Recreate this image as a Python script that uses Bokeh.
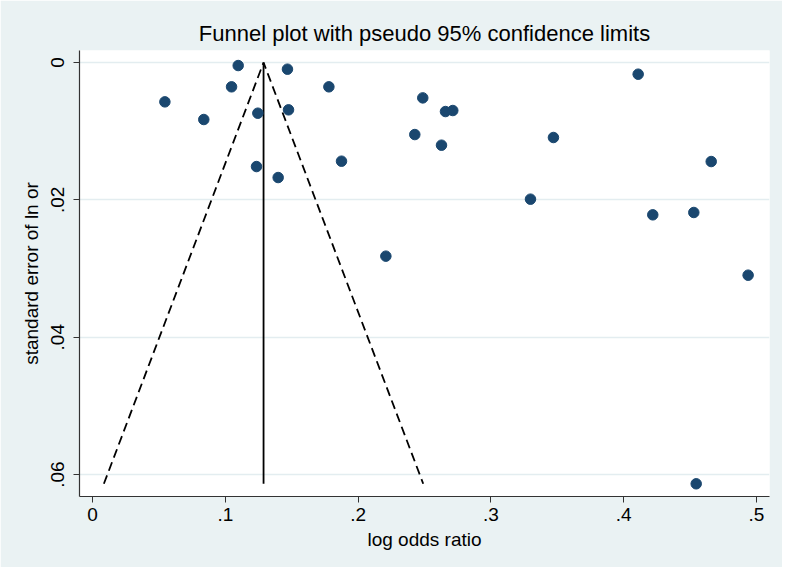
from bokeh.plotting import figure
from bokeh.models import Range1d, FixedTicker, CustomJSTickFormatter
from bokeh.embed import file_html
from bokeh.resources import INLINE

# Study estimates: log odds ratio and its standard error
log_or = [0.1097, 0.1468, 0.1047, 0.1780, 0.0545, 0.0838, 0.1245, 0.1476,
          0.1235, 0.1398, 0.1875, 0.2487, 0.2658, 0.2713, 0.2427, 0.2628,
          0.3471, 0.3298, 0.2209, 0.4109, 0.4659, 0.4219, 0.4528, 0.4937,
          0.4546]
se_lnor = [0.00044, 0.00097, 0.00354, 0.00354, 0.00573, 0.00830, 0.00738, 0.00689,
           0.01515, 0.01675, 0.01437, 0.00515, 0.00714, 0.00699, 0.01049, 0.01204,
           0.01092, 0.01990, 0.02820, 0.00170, 0.01442, 0.02218, 0.02184, 0.03097,
           0.06135]

pooled = 0.1288          # fixed-effect pooled log odds ratio
se_max = max(se_lnor)

x_ticks = [0, 0.1, 0.2, 0.3, 0.4, 0.5]
y_ticks = [0, 0.02, 0.04, 0.06]

BG = "#EAF2F3"
NAVY = "#1A476F"
FONT = "Liberation Sans"

p = figure(width=782, height=567,
           x_range=Range1d(-0.0098, 0.5098),
           y_range=Range1d(0.0632, -0.00175),
           output_backend="svg", toolbar_location=None,
           min_border_left=79, min_border_right=13,
           min_border_top=50, min_border_bottom=71)

p.background_fill_color = "white"
p.border_fill_color = BG
p.outline_line_color = None

p.title.text = "Funnel plot with pseudo 95% confidence limits"
p.title.align = "center"
p.title.text_font = FONT
p.title.text_font_size = "22px"
p.title.text_font_style = "normal"
p.title.text_color = "black"

# Confidence limit lines and pooled estimate
lo = pooled - 1.96 * se_max
hi = pooled + 1.96 * se_max
p.line([lo, pooled, hi], [se_max, 0, se_max], line_color="black",
       line_width=1.8, line_dash="9 5")
p.line([pooled, pooled], [0, se_max], line_color="black", line_width=1.8)

p.scatter(log_or, se_lnor, size=10.5, fill_color=NAVY, line_color=NAVY)

# Axes
p.xaxis.ticker = FixedTicker(ticks=x_ticks)
p.yaxis.ticker = FixedTicker(ticks=y_ticks)
fmt_code = """
var s = tick.toFixed(2);
if (Math.abs(tick) < 1e-9) return "0";
s = s.replace(/0+$/, "");
return s.replace(/^0/, "");
"""
p.xaxis.formatter = CustomJSTickFormatter(code=fmt_code)
p.yaxis.formatter = CustomJSTickFormatter(code=fmt_code)
p.yaxis.major_label_orientation = "vertical"

p.xaxis.axis_label = "log odds ratio"
p.yaxis.axis_label = "standard error of ln or"
for ax in (p.xaxis, p.yaxis):
    ax.axis_line_color = "#333333"
    ax.axis_line_width = 1.2
    ax.major_tick_line_color = "#333333"
    ax.major_tick_out = 6
    ax.major_tick_in = 0
    ax.minor_tick_line_color = None
    ax.major_label_text_font = FONT
    ax.major_label_text_font_size = "19px"
    ax.major_label_text_color = "black"
    ax.major_label_standoff = 5
    ax.axis_label_text_font = FONT
    ax.axis_label_text_font_size = "19px"
    ax.axis_label_text_font_style = "normal"
    ax.axis_label_text_color = "black"
    ax.axis_label_standoff = 5
p.yaxis.major_label_standoff = 9
p.yaxis.axis_label_standoff = 7

p.xgrid.grid_line_color = None
p.ygrid.grid_line_color = "#E3EDF0"
p.ygrid.grid_line_width = 1.5

open("out.html", "w").write(file_html(p, INLINE))
